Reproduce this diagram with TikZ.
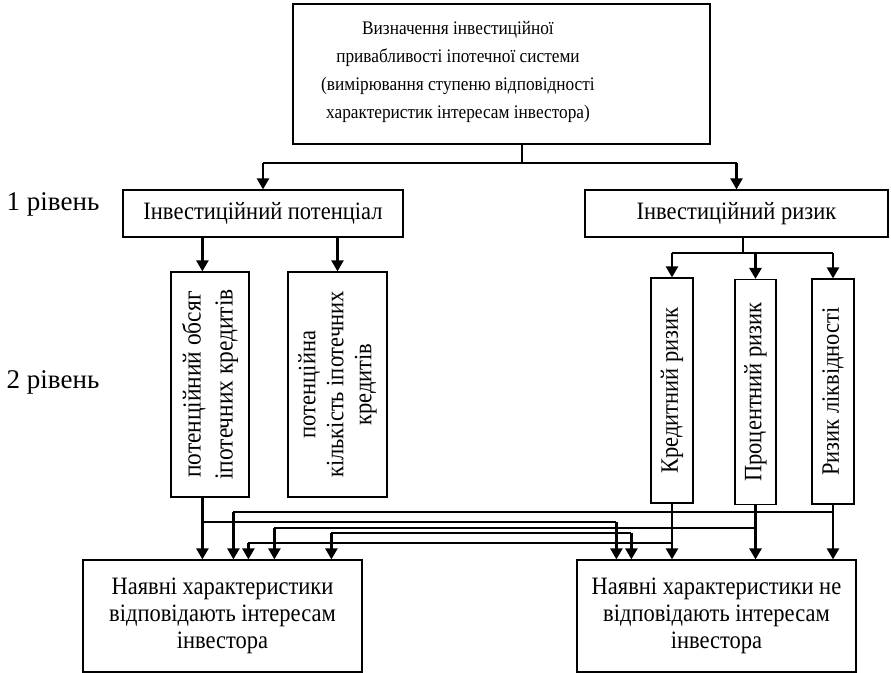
\documentclass[tikz,border=0pt]{standalone}
\usepackage{fontspec}
\setmainfont{Liberation Serif}[FakeStretch=0.9]
\newfontfamily\lvlfont{Liberation Serif}
\usetikzlibrary{arrows.meta, positioning, calc}

\begin{document}
\begin{tikzpicture}[x=0.5pt, y=-0.5pt,
    txt/.style={align=center, inner sep=0pt, font=\fontsize{12.5}{13.5}\selectfont},
    box/.style={txt, draw, line width=0.6pt},
    vbox/.style={box, rotate=90, minimum width=112.5pt},
    arr/.style={-{Triangle[width=6pt,length=5.5pt]}, line width=1.2pt},
    wire/.style={line width=0.6pt}
  ]
  \useasboundingbox (0,0) rectangle (891,673);

  % goal of the analysis
  \node[box, minimum width=208.5pt, minimum height=70pt] (goal) at (501.5,74) {};
  \node[txt, font=\fontsize{9.6}{14}\selectfont] (goaltext) at (458,72) {Визначення інвестиційної\\привабливості іпотечної системи\\(вимірювання ступеню відповідності\\характеристик інтересам інвестора)};

  % levels
  \node[txt, font=\lvlfont\fontsize{13.5}{14}\selectfont] (lvlone) at (53,204) {1 рівень};
  \node[txt, font=\lvlfont\fontsize{13.5}{14}\selectfont] (lvltwo) at (53,382) {2 рівень};

  % level 1
  \node[box, minimum width=140pt, minimum height=23.5pt] (potent) at (263,213.5) {Інвестиційний потенціал};
  \node[box, minimum width=151.5pt, minimum height=23.5pt] (risk) at (736.5,213.5) {Інвестиційний ризик};

  % level 2
  \node[vbox, minimum height=39pt, font=\fontsize{13}{16}\selectfont] (volume) at (210,384.5) {потенційний обсяг\\іпотечних кредитів};
  \node[vbox, minimum height=49.5pt, font=\fontsize{12.5}{14}\selectfont] (count) at (337.5,384.5) {потенційна\\кількість іпотечних\\кредитів};
  \node[vbox, minimum height=21pt] (credit) at (672,390.5) {Кредитний ризик};
  \node[vbox, minimum height=20.5pt] (rate) at (755.5,392) {Процентний ризик};
  \node[vbox, minimum height=21pt] (liquid) at (833,391.5) {Ризик ліквідності};

  % result
  \node[box, minimum width=139.5pt, minimum height=56pt] (good) at (222.5,616) {Наявні характеристики\\відповідають інтересам\\інвестора};
  \node[box, minimum width=139.5pt, minimum height=56pt] (bad) at (716.5,616) {Наявні характеристики не\\відповідають інтересам\\інвестора};

  % drop points
  \coordinate (g1) at ([xshift=60pt]good.north west);
  \coordinate (g2) at ([xshift=75.5pt]good.north west);
  \coordinate (g3) at ([xshift=83pt]good.north west);
  \coordinate (g4) at ([xshift=96pt]good.north west);
  \coordinate (g5) at ([xshift=124.5pt]good.north west);
  \coordinate (b1) at ([xshift=20pt]bad.north west);
  \coordinate (b2) at ([xshift=27.5pt]bad.north west);

  % top to level 1
  \coordinate (hub) at (522,163);
  \draw[wire] (hub |- goal.south) -- (hub);
  \draw[wire] (potent.north |- hub) -- (risk.north |- hub);
  \draw[arr] (potent.north |- hub) -- (potent.north);
  \draw[arr] (risk.north |- hub) -- (risk.north);

  % level 1 to level 2 (rotated boxes: east is top, west is bottom)
  \draw[arr] (g1 |- potent.south) -- (g1 |- volume.east);
  \draw[arr] (count.east |- potent.south) -- (count.east);
  \coordinate (rhub) at (743,253);
  \draw[wire] (rhub |- risk.south) -- (rhub);
  \draw[wire] (credit.east |- rhub) -- (liquid.east |- rhub);
  \draw[arr] (credit.east |- rhub) -- (credit.east);
  \draw[arr, line width=1.8pt] (rate.east |- rhub) -- (rate.east);
  \draw[arr] (liquid.east |- rhub) -- (liquid.east);

  % level 2 to result
  \draw[arr] (g1 |- volume.west) -- (g1);
  \draw[wire] (g1 |- 0,522) -- (b1 |- 0,522);
  \draw[arr] (b1 |- 0,522) -- (b1);
  \draw[wire] (g5 |- 0,533) -- (b2 |- 0,533);
  \draw[arr] (g5 |- 0,533) -- (g5);
  \draw[arr] (b2 |- 0,533) -- (b2);
  \draw[arr] (credit.west) -- (credit.west |- bad.north);
  \draw[wire] (credit.west |- 0,543) -- (g3 |- 0,543);
  \draw[arr] (g3 |- 0,543) -- (g3);
  \draw[arr, line width=1.8pt] (rate.west) -- (rate.west |- bad.north);
  \draw[wire] (rate.west |- 0,528) -- (g4 |- 0,528);
  \draw[arr] (g4 |- 0,528) -- (g4);
  \draw[arr] (liquid.west) -- (liquid.west |- bad.north);
  \draw[wire] (liquid.west |- 0,512) -- (g2 |- 0,512);
  \draw[arr] (g2 |- 0,512) -- (g2);
\end{tikzpicture}
\end{document}
